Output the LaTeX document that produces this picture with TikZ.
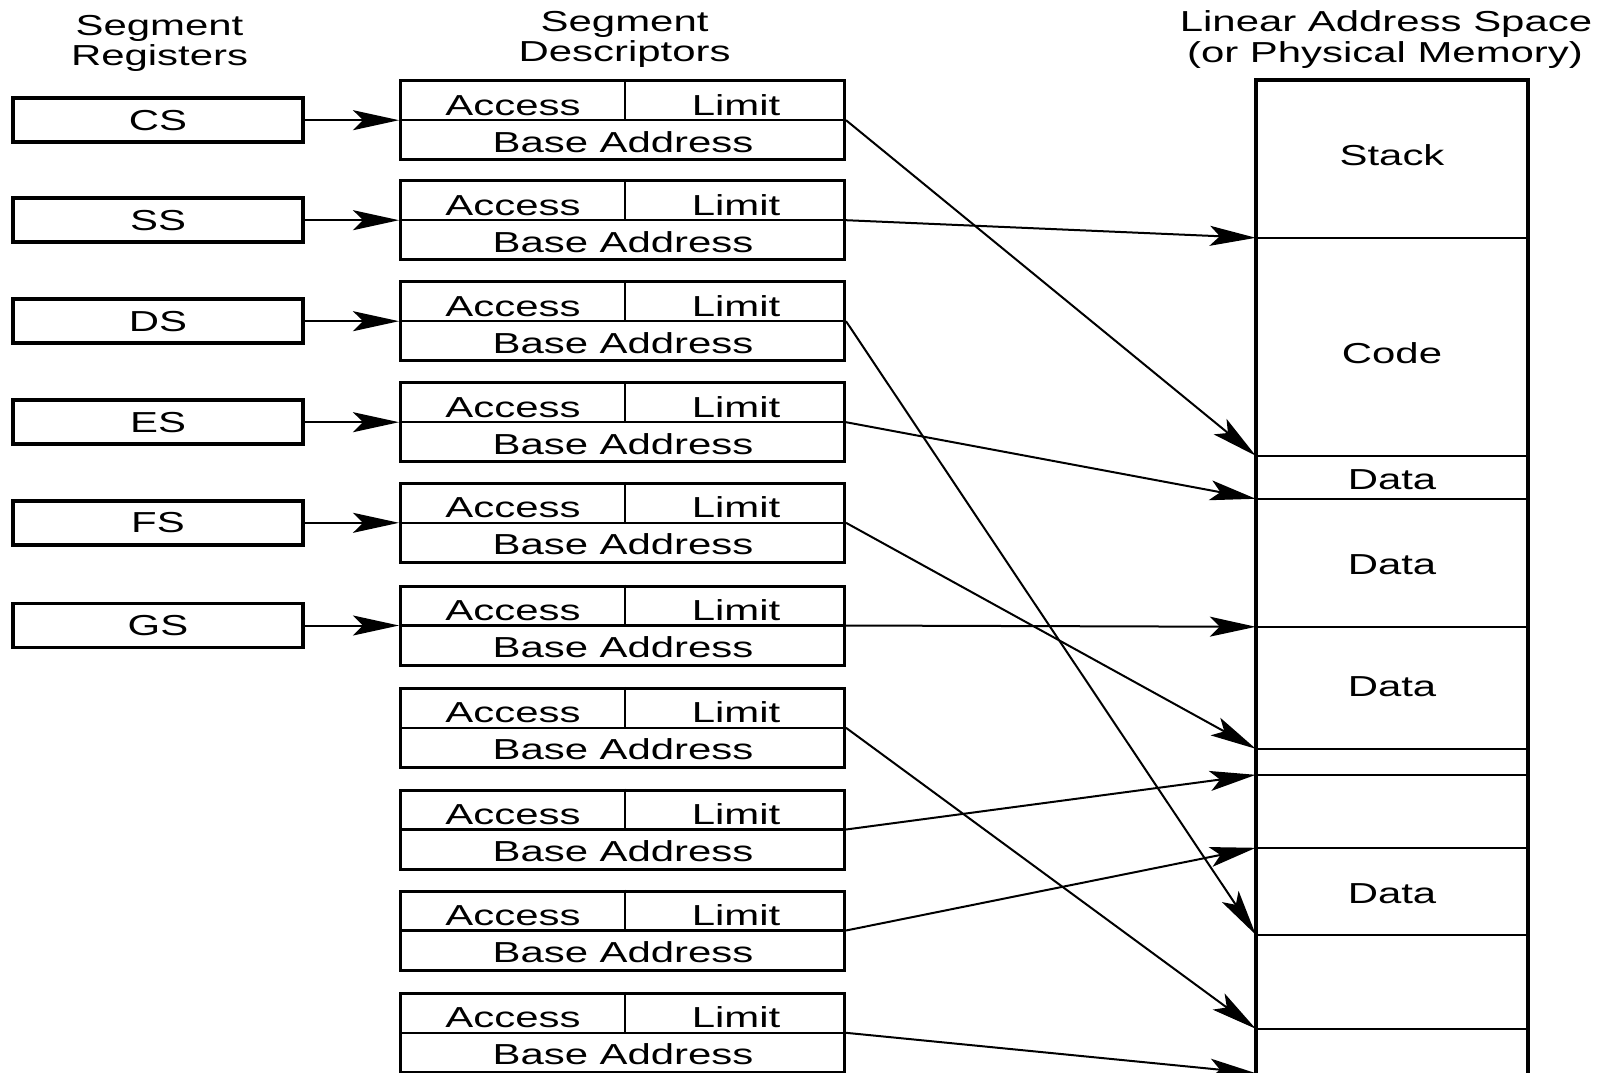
\documentclass[tikz,border=0pt]{standalone}
\usepackage{fontspec}
\setmainfont{Liberation Sans}[FakeStretch=1.45]
\usetikzlibrary{arrows.meta}
\begin{document}
\begin{tikzpicture}[x=1pt, y=-1pt,
  txt/.style={font=\fontsize{28.9}{30}\selectfont, inner sep=0pt},
  hdr/.style={txt, anchor=base},
  regbox/.style={txt, draw, line width=3.5pt, minimum width=290pt, minimum height=44pt},
  descbox/.style={draw, line width=3pt, minimum width=444pt, minimum height=79pt, inner sep=0pt},
  divider/.style={line width=2.5pt},
  memseg/.style={minimum width=272pt, inner sep=0pt},
  memline/.style={line width=2.5pt},
  memside/.style={line width=3.5pt},
  conn/.style={line width=2pt, -{Stealth[length=46pt, width=20pt, inset=10pt]}},
]
\useasboundingbox (0,0) rectangle (1603,1073);

% column headings
\node[hdr] (hr1) at (159.5,36) {Segment};
\node[hdr] (hr2) at (159.5,65.5) {Registers};
\node[hdr] (hd1) at (624.6,31.8) {Segment};
\node[hdr] (hd2) at (624.6,61.5) {Descriptors};
\node[hdr] (hl1) at (1386,32) {Linear Address Space};
\node[hdr] (hl2) at (1385,63) {(or Physical Memory)};

% segment descriptors (top edge of each box)
\foreach \top [count=\i from 0] in {80.7,180.7,281.7,382.7,483.3,586,688.3,790,891,993.3}{
  \pgfmathsetmacro\yc{\top+39.5}
  \node[descbox] (d\i) at (622.5,\yc) {};
  \draw[divider] (d\i.west) -- (d\i.east);
  \draw[divider] (625,\yc-41) -- (625,\yc);
  \node[txt, anchor=base] (a\i) at (513,\yc-5.2) {Access};
  \node[txt, anchor=base] (l\i) at (736,\yc-5.2) {Limit};
  \node[txt, anchor=base] (b\i) at (623,\yc+31.8) {Base Address};
}

% segment registers, each pointing at its descriptor
\foreach \n [count=\i from 0] in {CS,SS,DS,ES,FS,GS}{
  \node[regbox] (r\i) at (158,0 |- d\i.center) {\n};
  \draw[conn] (r\i.east) -- (d\i.west);
}

% linear address space, split into regions
\foreach \t/\b [count=\i from 0] in {80/238, 238/456, 456/499, 499/627, 627/749,
                                     749/775, 775/848, 848/935, 935/1029, 1029/1073}{
  \pgfmathsetmacro\h{\b-\t}
  \node[memseg, minimum height=\h pt] (m\i) at (1392,{(\t+\b)/2}) {};
}
\foreach \i in {1,...,9}{
  \draw[memline] (m\i.north west) -- (m\i.north east);
}
\draw[memside] ([yshift=-10pt]m9.south west) -- (m0.north west)
  -- (m0.north east) -- ([yshift=-10pt]m9.south east);

\node[txt] (t0) at (1392,155.4) {Stack};
\node[txt] (t1) at (1392,352.7) {Code};
\node[txt] (t2) at (1392,479.5) {Data};
\node[txt] (t3) at (1392,564.3) {Data};
\node[txt] (t4) at (1392,687) {Data};
\node[txt] (t7) at (1392,893.5) {Data};

% descriptor base addresses pointing into the address space
\draw[conn] (d0.east) -- (m2.north west);
\draw[conn] (d1.east) -- (m1.north west);
\draw[conn] (d2.east) -- (m8.north west);
\draw[conn] (d3.east) -- (m3.north west);
\draw[conn] (d4.east) -- (m5.north west);
\draw[conn] (d5.east) -- (m4.north west);
\draw[conn] (d6.east) -- (m9.north west);
\draw[conn] (d7.east) -- (m6.north west);
\draw[conn] (d8.east) -- (m7.north west);
\draw[conn] (d9.east) -- (m9.south west);
\end{tikzpicture}
\end{document}
